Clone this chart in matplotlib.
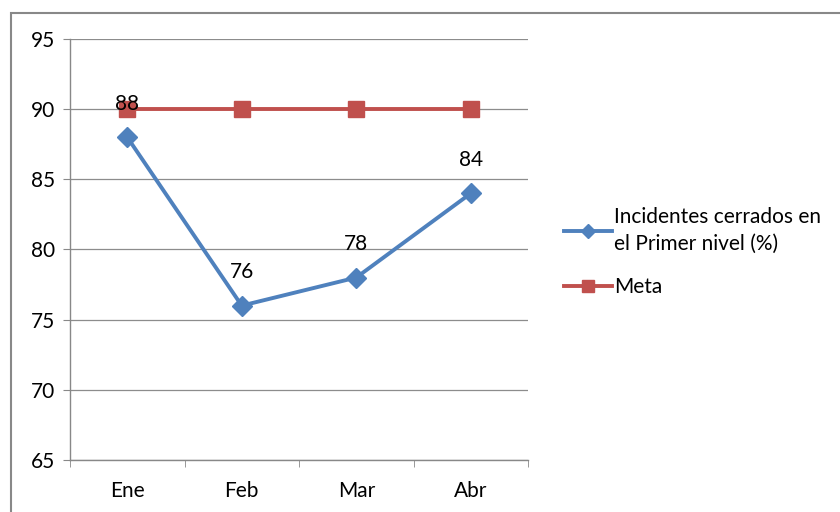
import matplotlib
matplotlib.use("Agg")
import matplotlib.pyplot as plt
from matplotlib.patches import Rectangle

months = ["Ene", "Feb", "Mar", "Abr"]
incidentes = [88, 76, 78, 84]
meta = [90, 90, 90, 90]
y_ticks = [65, 70, 75, 80, 85, 90, 95]

plt.rcParams['font.family'] = ['Lato', 'DejaVu Sans']
FS = 15

W, H = 840, 512
fig = plt.figure(figsize=(W / 100, H / 100), dpi=100)
fig.patch.set_facecolor("white")

# outer chart frame
fig.patches.append(Rectangle((11 / W, -0.1), 1.2, (H - 13) / H + 0.1,
                             transform=fig.transFigure, fill=False,
                             edgecolor="#888888", linewidth=1.5))

ax = fig.add_axes([70 / W, (H - 460) / H, (528 - 70) / W, (460 - 39) / H])
x = list(range(len(months)))

ax.plot(x, meta, color="#C0504D", linewidth=2.8, marker="s", markersize=11,
        label="Meta", zorder=3)
ax.plot(x, incidentes, color="#4F81BD", linewidth=2.8, marker="D", markersize=10,
        label="Incidentes cerrados en\nel Primer nivel (%)", zorder=4)

for xi, v in zip(x, incidentes):
    ax.annotate(str(v), (xi, v), xytext=(0, 24), textcoords="offset points",
                ha="center", va="center", fontsize=FS, color="black", zorder=5)

ax.set_xlim(-0.5, len(months) - 0.5)
ax.set_ylim(65, 95)
ax.set_yticks(y_ticks)
ax.set_xticks(x)
ax.set_xticklabels(months)
ax.set_xticks([i - 0.5 for i in range(len(months) + 1)], minor=True)
ax.tick_params(axis="x", which="major", length=0, pad=15, labelsize=FS)
ax.tick_params(axis="x", which="minor", length=5, color="#888888", direction="out")
ax.tick_params(axis="y", length=5, color="#888888", pad=6, labelsize=FS)

ax.grid(axis="y", color="#8c8c8c", linewidth=0.9)
ax.set_axisbelow(True)
for s in ["top", "right"]:
    ax.spines[s].set_visible(False)
for s in ["left", "bottom"]:
    ax.spines[s].set_color("#888888")
    ax.spines[s].set_linewidth(1.0)

handles, labels = ax.get_legend_handles_labels()
leg = fig.legend(handles[::-1], labels[::-1], loc="center left",
                 bbox_to_anchor=(545 / W, 1 - 252 / H), frameon=False,
                 fontsize=FS, handlelength=2.3, handletextpad=0.1,
                 labelspacing=1.1, markerscale=0.75)
for t in leg.get_texts():
    t.set_linespacing(1.45)

fig.savefig("out.png", dpi=100)
